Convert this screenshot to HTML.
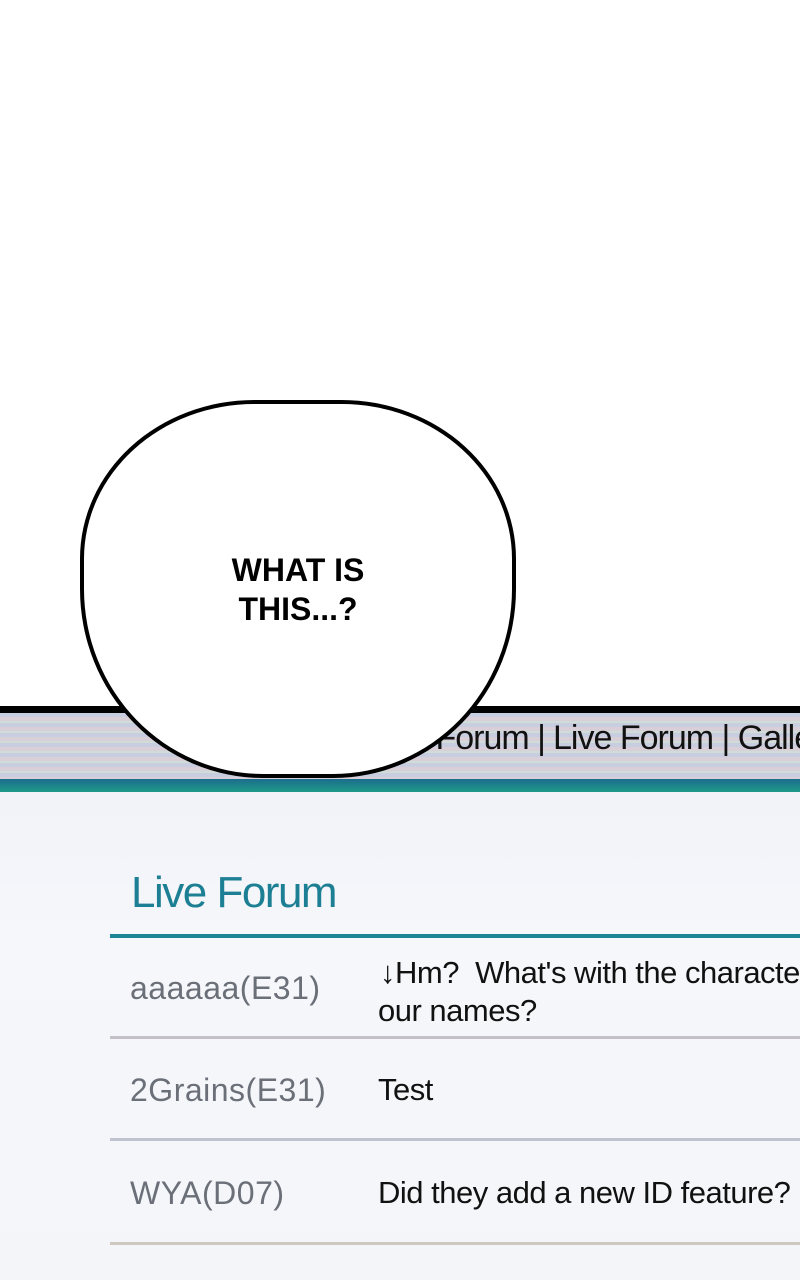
<!DOCTYPE html>
<html><head><style>
html,body{margin:0;padding:0}
#w{width:800px;height:1280px;overflow:hidden;position:relative;background:#fff;font-family:"Liberation Sans",sans-serif}
.a{position:absolute}
.scr{left:0;top:708px;width:800px;height:572px;background:linear-gradient(#eef0f6,#f6f7fb 40%,#f3f5f9)}
.hdr{left:0;top:713px;width:800px;height:66px;background:repeating-linear-gradient(#c9cde0 0 4px,#d8cfd8 4px 8px,#cfdcd8 8px 10px)}
.t{font-size:31px;color:#111;white-space:nowrap;letter-spacing:-0.5px}
.nm{font-size:32px;color:#6a6f78;white-space:nowrap;letter-spacing:0.5px}
.sep{left:110px;width:690px;height:3px;background:#c4c0c8}
</style></head><body><div id="w">
<div class="a scr"></div>
<div class="a" style="left:0;top:706px;width:800px;height:7px;background:#000"></div>
<div class="a hdr"></div>
<div class="a t" style="right:255px;top:719px;font-size:34px;letter-spacing:-1px">Forum |</div>
<div class="a t" style="left:553px;top:719px;font-size:34px;letter-spacing:-1px">Live Forum | Gallery</div>
<div class="a" style="left:0;top:779px;width:800px;height:13px;background:linear-gradient(#1b6d8c,#1f9a8a)"></div>
<div class="a" style="left:131px;top:868px;font-size:44px;color:#1d7f93;letter-spacing:-1.5px">Live Forum</div>
<div class="a" style="left:110px;top:934px;width:690px;height:4px;background:#1c8596"></div>
<div class="a nm" style="left:130px;top:970px">aaaaaa(E31)</div>
<div class="a t" style="left:380px;top:955px">↓Hm?&nbsp; What's with the characters in</div>
<div class="a t" style="left:378px;top:993px">our names?</div>
<div class="a sep" style="top:1036px"></div>
<div class="a nm" style="left:130px;top:1072px">2Grains(E31)</div>
<div class="a t" style="left:378px;top:1072px">Test</div>
<div class="a sep" style="top:1138px;background:#bfc3d0"></div>
<div class="a nm" style="left:130px;top:1175px">WYA(D07)</div>
<div class="a t" style="left:378px;top:1175px">Did they add a new ID feature?</div>
<div class="a sep" style="top:1242px;background:#cfc8c0"></div>
<div class="a" style="left:80px;top:400px;width:428px;height:370px;border:4px solid #000;border-radius:40% 40% 42% 42% / 42% 42% 50% 50%;background:#fff"></div>
<div class="a" style="left:190px;top:551px;width:216px;text-align:center;font-size:32px;font-weight:bold;line-height:39px;color:#000">WHAT IS<br>THIS...?</div>
</div></body></html>
